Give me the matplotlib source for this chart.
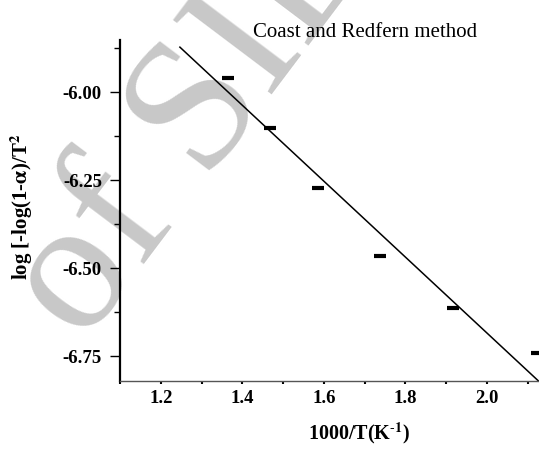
import numpy as np
import matplotlib.pyplot as plt
from matplotlib.ticker import MultipleLocator

# data points
inv_T = [1.364, 1.467, 1.585, 1.737, 1.917, 2.123]
log_term = [-5.96, -6.102, -6.273, -6.466, -6.613, -6.74]

# fitted straight line
fit_x = [1.247, 2.128]
fit_y = [-5.872, -6.822]

plt.rcParams['font.family'] = ['Liberation Serif', 'DejaVu Serif']
plt.rcParams['mathtext.fontset'] = 'stix'

fig = plt.figure(figsize=(5.39, 4.61), dpi=100)

# watermark, behind everything
fig.text(0.37, 0.75, 'of SID', fontsize=135, color='#c8c8c8', rotation=53,
         ha='center', va='center', zorder=-1)

ax = fig.add_axes([0.2226, 0.1725, 0.7774, 0.7405])
ax.patch.set_alpha(0)

ax.plot(fit_x, fit_y, color='black', linewidth=1.1)
ax.plot(inv_T, log_term, linestyle='none', marker='_', markersize=9,
        markeredgewidth=3, color='black', clip_on=False)

ax.set_xlim(1.1, 2.128)
ax.set_ylim(-6.822, -5.852)

ax.spines['top'].set_visible(False)
ax.spines['right'].set_visible(False)
ax.spines['left'].set_linewidth(1.6)
ax.spines['bottom'].set_linewidth(1.0)
ax.spines['bottom'].set_color('#555555')

ax.xaxis.set_minor_locator(MultipleLocator(0.1))
ax.yaxis.set_minor_locator(MultipleLocator(0.125))
ax.set_yticks([-6.00, -6.25, -6.50, -6.75])
ax.set_yticklabels(['-6.00', '-6.25', '-6.50', '-6.75'])
ax.set_xticks([1.2, 1.4, 1.6, 1.8, 2.0])
ax.set_xticklabels(['1.2', '1.4', '1.6', '1.8', '2.0'])

ax.tick_params(axis='y', which='major', length=7, width=1, direction='out', pad=6)
ax.tick_params(axis='y', which='minor', length=4, width=1, direction='out')
ax.tick_params(axis='x', which='both', length=2, width=1.5, direction='out', pad=4)
for lab in ax.get_xticklabels() + ax.get_yticklabels():
    lab.set_fontweight('bold')
    lab.set_fontsize(13.5)

fig.text(0.677, 0.93, 'Coast and Redfern method', fontsize=15, ha='center', va='center')
fig.text(0.666, 0.06, r'1000/T(K$^{\text{-}\mathbf{1}}$)', fontsize=14.5, fontweight='bold',
         ha='center', va='center')
fig.text(0.04, 0.551, r'log [-log(1-$\mathbf{\alpha}$)/T$^{\mathbf{2}}$', fontsize=15,
         fontweight='bold', rotation=90, ha='center', va='center')

fig.savefig('out.png', dpi=100)
